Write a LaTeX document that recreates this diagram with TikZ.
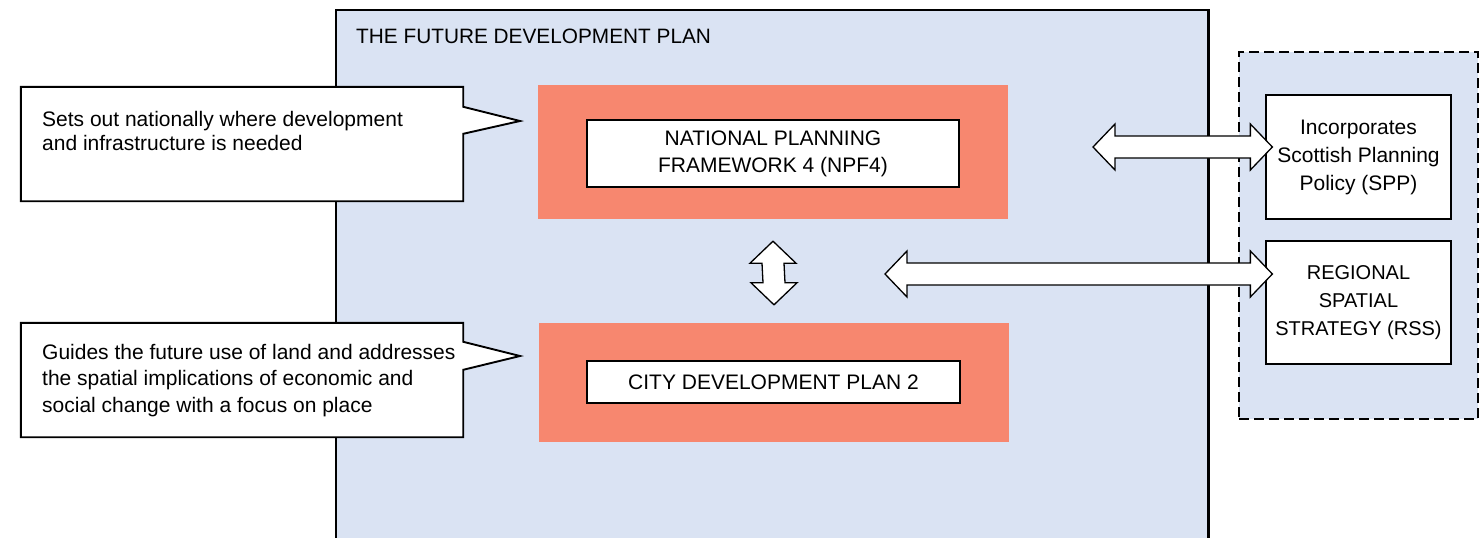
\documentclass[tikz,border=0pt]{standalone}
\usepackage{fontspec}
\setmainfont{Liberation Sans}
\usetikzlibrary{calc}
\definecolor{panelblue}{HTML}{DAE3F3}
\definecolor{salmonred}{HTML}{F7876F}
\newcommand{\harrowpoly}[2]{\draw[blockarrow] (#1) -- ++(22,-23) -- ++(0,12) -- ($(#2)+(-22,-11)$) -- ++(0,-12) -- (#2) -- ++(-22,23) -- ++(0,-12) -- ($(#1)+(22,11)$) -- ++(0,12) -- cycle;}
\newcommand{\varrowpoly}[2]{\draw[blockarrow] (#1) -- ++(23,22) -- ++(-12,0) -- ($(#2)+(11,-22)$) -- ++(12,0) -- (#2) -- ++(-23,-22) -- ++(12,0) -- ($(#1)+(-11,22)$) -- ++(-12,0) -- cycle;}
\begin{document}
\begin{tikzpicture}[x=1pt,y=-1pt,
  panelnode/.style={fill=panelblue, inner sep=0pt},
  outerline/.style={draw=black, line width=2.2pt},
  bgbox/.style={fill=salmonred, inner sep=0pt},
  whitebox/.style={draw=black, fill=white, line width=1.6pt, inner sep=0pt, align=center, font=\fontsize{21}{27}\selectfont},
  sidebox/.style={draw=black, fill=white, line width=1.3pt, inner sep=0pt, align=center, font=\fontsize{21}{28}\selectfont},
  dashbox/.style={draw=black, fill=panelblue, line width=2.7pt, dash pattern=on 10pt off 5pt, inner sep=0pt},
  callshape/.style={inner sep=0pt},
  calloutline/.style={draw=black, fill=white, line width=1.9pt, line join=miter},
  calltext/.style={inner sep=0pt, anchor=north west, align=left},
  blockarrow/.style={draw=black, fill=white, line width=1.3pt, line join=miter},
  titletext/.style={inner sep=0pt, anchor=base west, font=\fontsize{20.8}{25}\selectfont}
]
\useasboundingbox (0,0) rectangle (1484,538);
\clip (0,0) rectangle (1484,538);
\fill[white] (0,0) rectangle (1484,538);

% main panel
\node[panelnode, minimum width=872pt, minimum height=560pt, anchor=north west] (panel) at (336,10) {};
\draw[outerline] (panel.south west) -- (panel.north west) -- (panel.north east) -- (panel.south east);
\node[titletext] (title) at (356,43) {THE FUTURE DEVELOPMENT PLAN};

% dashed side box
\node[dashbox, minimum width=239pt, minimum height=367pt] (side) at (1358.5,235.5) {};

% callouts
\node[callshape, minimum width=442pt, minimum height=114pt] (call1) at (242,144) {};
\coordinate (tip1) at (520,121);
\draw[calloutline] (call1.north west) -- (call1.north east) -- ([yshift=-20pt]call1.north east) -- (tip1) -- ([yshift=-47pt]call1.north east) -- (call1.south east) -- (call1.south west) -- cycle;
\node[calltext, font=\fontsize{21}{24.5}\selectfont] (text1) at (42,111) {Sets out nationally where development\\and infrastructure is needed};

\node[callshape, minimum width=442pt, minimum height=114pt] (call2) at (242,380) {};
\coordinate (tip2) at (520,356);
\draw[calloutline] (call2.north west) -- (call2.north east) -- ([yshift=-19pt]call2.north east) -- (tip2) -- ([yshift=-47pt]call2.north east) -- (call2.south east) -- (call2.south west) -- cycle;
\node[calltext, font=\fontsize{21}{26.5}\selectfont] (text2) at (42,344) {Guides the future use of land and addresses\\the spatial implications of economic and\\social change with a focus on place};

% salmon frames and white boxes
\node[bgbox, minimum width=470pt, minimum height=134pt] (npfbg) at (773,152) {};
\node[whitebox, minimum width=372pt, minimum height=67pt] (npf) at (773,153.5) {NATIONAL PLANNING\\FRAMEWORK 4 (NPF4)};
\node[bgbox, minimum width=470pt, minimum height=119pt] (cdpbg) at (774,382.5) {};
\node[whitebox, minimum width=373pt, minimum height=42pt] (cdp) at (773.5,382) {CITY DEVELOPMENT PLAN 2};

% side boxes
\node[sidebox, minimum width=185pt, minimum height=124pt] (spp) at (1358.5,157) {Incorporates\\Scottish Planning\\Policy (SPP)};
\node[sidebox, minimum width=185pt, minimum height=123pt, font=\fontsize{20}{28}\selectfont] (rss) at (1358.5,302.5) {REGIONAL\\SPATIAL\\STRATEGY (RSS)};

% block arrows
\coordinate (a1l) at (1093,147);
\coordinate (a1r) at ([xshift=7pt]spp.west |- a1l);
\harrowpoly{a1l}{a1r}
\coordinate (a2l) at (885,274);
\coordinate (a2r) at ([xshift=7pt]rss.west |- a2l);
\harrowpoly{a2l}{a2r}
\coordinate (a3t) at ([yshift=-22pt]npfbg.south);
\coordinate (a3b) at ([yshift=18pt]cdpbg.north);
\varrowpoly{a3t}{a3b}
\end{tikzpicture}
\end{document}
